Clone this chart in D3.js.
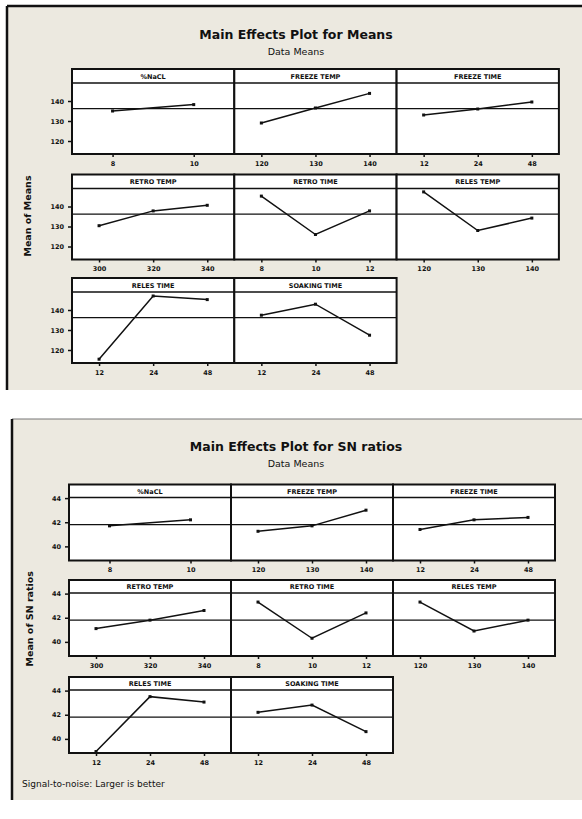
<!DOCTYPE html>
<html>
<head>
<meta charset="utf-8">
<script src="https://cdn.jsdelivr.net/npm/d3@7"></script>
<style>
body { margin: 0; background: #fff; }
svg { display: block; }
text { font-family: "DejaVu Sans", sans-serif; fill: #111; }
</style>
</head>
<body>
<svg id="chart" width="582" height="819"></svg>
<script>
//Factor names and their levels
var factors = ["%NaCL", "FREEZE TEMP", "FREEZE TIME", "RETRO TEMP", "RETRO TIME", "RELES TEMP", "RELES TIME", "SOAKING TIME"];
var levels = [["8", "10"], ["120", "130", "140"], ["12", "24", "48"], ["300", "320", "340"], ["8", "10", "12"], ["120", "130", "140"], ["12", "24", "48"], ["12", "24", "48"]];
//Mean of means for each level
var meanValues = [[135, 138.2], [129, 136.5, 143.8], [133, 136, 139.5], [130.4, 137.8, 140.6], [145.2, 126, 137.8], [147.3, 128, 134.2], [115.4, 147, 145.2], [137.4, 142.9, 127.4]];
var meanGrand = 136.2;
var meanTicks = [120, 130, 140];
//Mean of SN ratios for each level
var snValues = [[41.7, 42.2], [41.25, 41.7, 43.0], [41.4, 42.2, 42.4], [41.1, 41.8, 42.6], [43.3, 40.3, 42.4], [43.3, 40.9, 41.8], [38.95, 43.5, 43.05], [42.2, 42.8, 40.6]];
var snGrand = 41.8;
var snTicks = [40, 42, 44];

var svg = d3.select("#chart");
var beige = "#ece9e0";

//Backgrounds of the two charts
svg.append("rect").attr("x", 7).attr("y", 6).attr("width", 575).attr("height", 384).attr("fill", beige);
svg.append("line").attr("x1", 7).attr("y1", 6).attr("x2", 582).attr("y2", 6).attr("stroke", "#111").attr("stroke-width", 2.5);
svg.append("line").attr("x1", 7).attr("y1", 6).attr("x2", 7).attr("y2", 390).attr("stroke", "#111").attr("stroke-width", 2.5);
svg.append("rect").attr("x", 12).attr("y", 419).attr("width", 570).attr("height", 381).attr("fill", beige);
svg.append("line").attr("x1", 12).attr("y1", 419).attr("x2", 582).attr("y2", 419).attr("stroke", "#777").attr("stroke-width", 1);
svg.append("line").attr("x1", 12).attr("y1", 419).attr("x2", 12).attr("y2", 800).attr("stroke", "#111").attr("stroke-width", 2.5);

function drawChart(opt) {
    var g = svg.append("g");
    g.append("text").attr("x", 296).attr("y", opt.titleY).attr("text-anchor", "middle")
        .attr("font-size", 12.5).attr("font-weight", "bold").attr("fill", "#1b1b2b").text(opt.title);
    g.append("text").attr("x", 296).attr("y", opt.titleY + 16).attr("text-anchor", "middle")
        .attr("font-size", 9.5).text("Data Means");
    var gridBottom = opt.rowTops[2] + opt.stripH + opt.plotH;
    g.append("text").attr("transform", "translate(" + opt.labelX + "," + ((opt.rowTops[0] + gridBottom) / 2) + ") rotate(-90)")
        .attr("text-anchor", "middle").attr("font-size", 9.5).attr("font-weight", "bold").text(opt.yLabel);

    opt.values.forEach(function (vals, i) {
        var col = i % 3, row = Math.floor(i / 3);
        var x0 = opt.left + col * opt.colW;
        var top = opt.rowTops[row];
        var plotTop = top + opt.stripH;
        var plotBottom = plotTop + opt.plotH;
        var x = d3.scalePoint().domain(levels[i]).range([x0, x0 + opt.colW]).padding(0.5);
        var y = d3.scaleLinear().domain(opt.domain).range([plotBottom, plotTop]);
        var p = g.append("g");
        //panel and strip
        p.append("rect").attr("x", x0).attr("y", top).attr("width", opt.colW).attr("height", opt.stripH + opt.plotH)
            .attr("fill", "#fff").attr("stroke", "#111").attr("stroke-width", 2);
        p.append("line").attr("x1", x0).attr("x2", x0 + opt.colW).attr("y1", plotTop).attr("y2", plotTop)
            .attr("stroke", "#111").attr("stroke-width", 1.5);
        p.append("text").attr("x", x0 + opt.colW / 2).attr("y", top + opt.stripH / 2 + 2.5).attr("text-anchor", "middle")
            .attr("font-size", 6.5).attr("font-weight", "bold").text(factors[i]);
        //grand mean reference line
        p.append("line").attr("x1", x0).attr("x2", x0 + opt.colW).attr("y1", y(opt.grand)).attr("y2", y(opt.grand))
            .attr("stroke", "#111").attr("stroke-width", 1.3);
        //effect line
        var line = d3.line().x(function (d, j) { return x(levels[i][j]); }).y(function (d) { return y(d); });
        p.append("path").datum(vals).attr("d", line).attr("fill", "none").attr("stroke", "#111").attr("stroke-width", 1.5);
        p.selectAll("rect.pt").data(vals).enter().append("rect").attr("class", "pt")
            .attr("x", function (d, j) { return x(levels[i][j]) - 1.5; }).attr("y", function (d) { return y(d) - 1.5; })
            .attr("width", 3).attr("height", 3).attr("fill", "#111");
        //x axis
        var xa = p.append("g").attr("transform", "translate(0," + plotBottom + ")")
            .call(d3.axisBottom(x).tickSize(3).tickPadding(4));
        xa.select(".domain").remove();
        xa.selectAll("line").attr("stroke", "#111").attr("stroke-width", 1.5);
        xa.selectAll("text").attr("font-size", 6.5).attr("font-weight", "bold").attr("fill", "#222");
        //y axis on first column only
        if (col === 0) {
            var ya = p.append("g").attr("transform", "translate(" + x0 + ",0)")
                .call(d3.axisLeft(y).tickValues(opt.ticks).tickFormat(d3.format("d")).tickSize(4).tickPadding(4));
            ya.select(".domain").remove();
            ya.selectAll("line").attr("stroke", "#111").attr("stroke-width", 1.5);
            ya.selectAll("text").attr("font-size", 6.5).attr("font-weight", "bold").attr("fill", "#222");
        }
    });
}

drawChart({
    title: "Main Effects Plot for Means", titleY: 39, yLabel: "Mean of Means", labelX: 31,
    values: meanValues, grand: meanGrand, ticks: meanTicks, domain: [113.5, 149],
    left: 72, colW: 162.3, rowTops: [69, 174.5, 278], stripH: 14, plotH: 71
});
drawChart({
    title: "Main Effects Plot for SN ratios", titleY: 451, yLabel: "Mean of SN ratios", labelX: 33,
    values: snValues, grand: snGrand, ticks: snTicks, domain: [38.83, 44.05],
    left: 69, colW: 162, rowTops: [484.5, 580, 677], stripH: 13, plotH: 63
});

//footnote
svg.append("text").attr("x", 22).attr("y", 787).attr("font-size", 9).text("Signal-to-noise: Larger is better");
</script>
</body>
</html>
